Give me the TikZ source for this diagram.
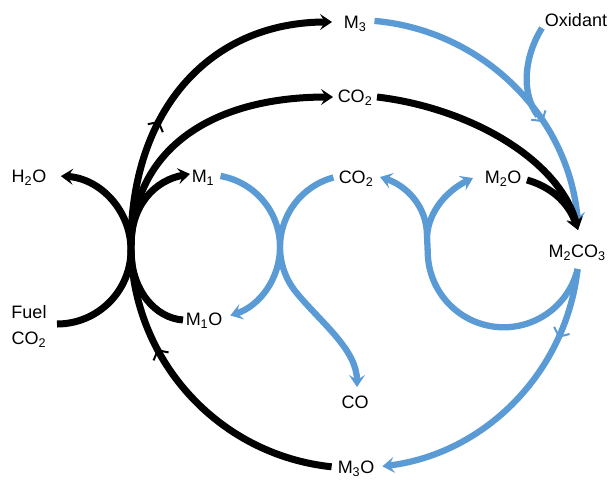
\documentclass[tikz,border=0pt]{standalone}
\usepackage{fontspec}
\setmainfont{Liberation Sans}
\usetikzlibrary{arrows.meta,decorations.markings}
\definecolor{rxblue}{RGB}{91,155,213}
\tikzset{
  lbl/.style={font=\fontsize{18}{24}\selectfont, inner sep=0pt, text height=13pt, text depth=0pt},
  blk/.style={draw=black, line width=7pt},
  blu/.style={draw=rxblue, line width=6.3pt},
  endtip/.style={-{Stealth[length=12pt,width=16pt,inset=5pt]}},
  midarrow/.style={postaction={decorate,decoration={markings,mark=at position #1 with {\arrow{Straight Barb[length=7pt,width=17pt,line width=2pt]}}}}},
}
\begin{document}
\begin{tikzpicture}[x=1pt,y=-1pt]
\useasboundingbox (0,0) rectangle (609,479);
% labels
\node[lbl] (m3) at (355,22) {M\textsubscript{3}};
\node[lbl] (oxid) at (576,20) {Oxidant};
\node[lbl] (co2t) at (355,96) {CO\textsubscript{2}};
\node[lbl] (h2o) at (29,176) {H\textsubscript{2}O};
\node[lbl] (m1) at (203,176) {M\textsubscript{1}};
\node[lbl] (co2m) at (356,177) {CO\textsubscript{2}};
\node[lbl] (m2o) at (503,177) {M\textsubscript{2}O};
\node[lbl] (m2co3) at (577,251) {M\textsubscript{2}CO\textsubscript{3}};
\node[lbl] (fuel) at (29,312) {Fuel};
\node[lbl] (fco2) at (29,338) {CO\textsubscript{2}};
\node[lbl] (m1o) at (204,319) {M\textsubscript{1}O};
\node[lbl] (co) at (355,402) {CO};
\node[lbl] (m3o) at (356,467) {M\textsubscript{3}O};
% coordinates
\coordinate (hub) at (131,245);
\coordinate (m3oW) at (331.6,466.8);
\coordinate (m3W) at (332,22);
\coordinate (co2tW) at (333,97);
\coordinate (co2tE) at (377,97);
\coordinate (m1W) at (190,174);
\coordinate (m1oW) at (183,320);
\coordinate (h2oE) at (131,250);
\coordinate (fuelE) at (57,324);
\coordinate (m2oE) at (527,180);
\coordinate (m2co3N) at (578,230);
\coordinate (m3E) at (374.5,20.9);
\coordinate (oxidS) at (542,28);
\coordinate (merge) at (538,116);
\coordinate (m2co3S) at (577.6,269);
\coordinate (m1E) at (220.5,176);
\coordinate (coN) at (357,387);
\coordinate (co2mW) at (333.4,177.5);
\coordinate (fork) at (427,236);
\coordinate (co2mE) at (380,177);
\coordinate (m2oW) at (473,178);
% blue paths
\draw[blu,endtip,midarrow=0.65] (m3E) arc[start angle=-85,end angle=-5,radius=224];
\draw[blu] (oxidS) .. controls (525,55) and (520,92) .. (merge);
\draw[blu,endtip,midarrow=0.24] (m2co3S) arc[start angle=6.4,end angle=83,radius=224];
\draw[blu,endtip] (m1E) arc[start angle=-80,end angle=0,radius=72]
   arc[start angle=180,end angle=140,radius=72] .. controls (322.5,324) and (357,350) .. (coN);
\draw[blu,endtip] (co2mW) arc[start angle=-105,end angle=-180,radius=72]
   arc[start angle=0,end angle=72,radius=72];
\draw[blu] (m2co3S) arc[start angle=13.5,end angle=180,radius=76] -- (fork);
\draw[blu,endtip] (fork) .. controls (427,205) and (405,185) .. (co2mE);
\draw[blu,endtip] (fork) .. controls (429,210) and (448,190) .. (m2oW);
% black paths
\draw[blk,midarrow=0.667] (m3oW) arc[start angle=96,end angle=180,radius=224];
\draw[blk,endtip,midarrow=0.38] (hub) .. controls (131,110) and (210,22) .. (m3W);
\draw[blk,endtip] (hub) .. controls (134,150) and (210,97) .. (co2tW);
\draw[blk,endtip] (hub) .. controls (131,205) and (155,180) .. (m1W);
\draw[blk] (m1oW) .. controls (155,318) and (131,290) .. (131,250);
\draw[blk,endtip] (h2oE) arc[start angle=0,end angle=-87,radius=74];
\draw[blk] (fuelE) arc[start angle=90,end angle=0,radius=74];
\draw[blk,endtip] (co2tE) .. controls (470,108) and (560,160) .. (m2co3N);
\draw[blk,endtip] (m2oE) .. controls (548,186) and (568,200) .. (m2co3N);
\end{tikzpicture}
\end{document}
